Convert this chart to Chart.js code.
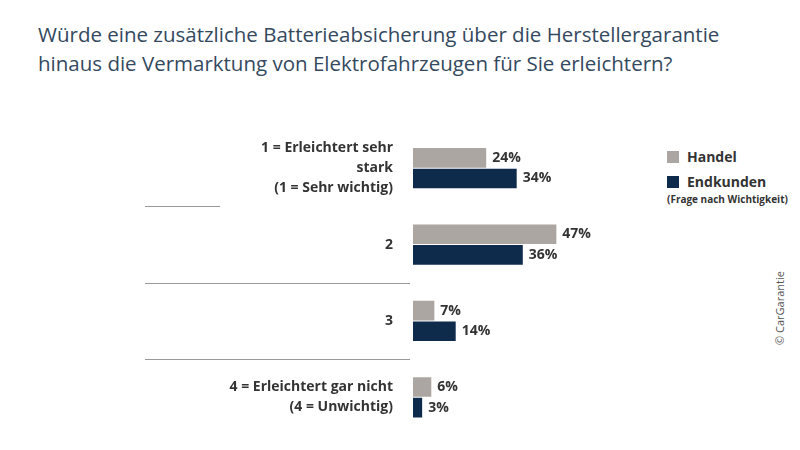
<!DOCTYPE html>
<html>
<head>
<meta charset="utf-8">
<script src="https://cdn.jsdelivr.net/npm/chart.js@4"></script>
<style>
  body { margin: 0; background: #fff; font-family: "Open Sans", sans-serif; }
  #wrap { position: relative; width: 800px; height: 450px; overflow: hidden; }
  #titel { position: absolute; left: 38px; top: 20px; font-size: 20.5px; line-height: 29px; color: #34495e; }
  .leg { position: absolute; left: 667px; font-weight: bold; font-size: 14px; color: #333; }
  .leg span { display: inline-block; width: 12px; height: 12px; margin-right: 8px; vertical-align: -1px; }
  #copy { position: absolute; left: 772px; top: 345px; transform: rotate(-90deg); transform-origin: left top; font-size: 11px; color: #555; white-space: nowrap; }
  canvas { position: absolute; left: 0; top: 0; }
</style>
</head>
<body>
<div id="wrap">
  <div id="titel">Würde eine zusätzliche Batterieabsicherung über die Herstellergarantie<br>hinaus die Vermarktung von Elektrofahrzeugen für Sie erleichtern?</div>
  <div class="leg" style="top:147px"><span style="background:#aba6a1"></span>Handel</div>
  <div class="leg" style="top:172px"><span style="background:#0f2b4c"></span>Endkunden</div>
  <div class="leg" style="top:192px;font-size:10px;left:667px">(Frage nach Wichtigkeit)</div>
  <div id="copy">© CarGarantie</div>
  <canvas id="grafico" width="800" height="478"></canvas>
</div>
<script>
const kategorien = [
  ['1 = Erleichtert sehr', 'stark', '(1 = Sehr wichtig)'],
  '2',
  '3',
  ['4 = Erleichtert gar nicht', '(4 = Unwichtig)']
];
const handel = [24, 47, 7, 6];
const endkunden = [34, 36, 14, 3];

// Werte rechts neben den Balken
const wertePlugin = {
  id: 'werte',
  afterDatasetsDraw(chart) {
    const ctx = chart.ctx;
    ctx.save();
    ctx.font = 'bold 14px "Open Sans", sans-serif';
    ctx.fillStyle = '#333';
    ctx.textBaseline = 'middle';
    chart.data.datasets.forEach((ds, i) => {
      chart.getDatasetMeta(i).data.forEach((bar, j) => {
        ctx.fillText(ds.data[j] + '%', bar.x + 6, bar.y);
      });
    });
    ctx.restore();
  }
};

// Trennlinien zwischen den Gruppen
const linienPlugin = {
  id: 'linien',
  afterDraw(chart) {
    const y = chart.scales.y;
    const ctx = chart.ctx;
    ctx.save();
    ctx.strokeStyle = '#999';
    ctx.lineWidth = 1;
    for (let i = 0; i < kategorien.length - 1; i++) {
      const py = Math.round((y.getPixelForValue(i) + y.getPixelForValue(i + 1)) / 2) + 0.5;
      ctx.beginPath();
      ctx.moveTo(145, py);
      ctx.lineTo(i === 0 ? 220 : 410, py);
      ctx.stroke();
    }
    ctx.restore();
  }
};

new Chart(document.getElementById('grafico'), {
  type: 'bar',
  data: {
    labels: kategorien,
    datasets: [
      { label: 'Handel', data: handel, backgroundColor: '#aba6a1' },
      { label: 'Endkunden', data: endkunden, backgroundColor: '#0f2b4c' }
    ]
  },
  options: {
    indexAxis: 'y',
    responsive: false,
    animation: false,
    layout: { padding: { top: 130, bottom: 0, right: 82 } },
    datasets: { bar: { categoryPercentage: 0.54, barPercentage: 0.95 } },
    plugins: { legend: { display: false }, tooltip: { enabled: false } },
    scales: {
      x: { min: 0, max: 100, display: false },
      y: {
        grid: { display: false },
        border: { display: false },
        afterFit(scale) { scale.width = 413; },
        ticks: {
          padding: 12,
          color: '#333',
          font: { family: '"Open Sans", sans-serif', size: 14, weight: 'bold', lineHeight: 1.45 }
        }
      }
    }
  },
  plugins: [wertePlugin, linienPlugin]
});
</script>
</body>
</html>
